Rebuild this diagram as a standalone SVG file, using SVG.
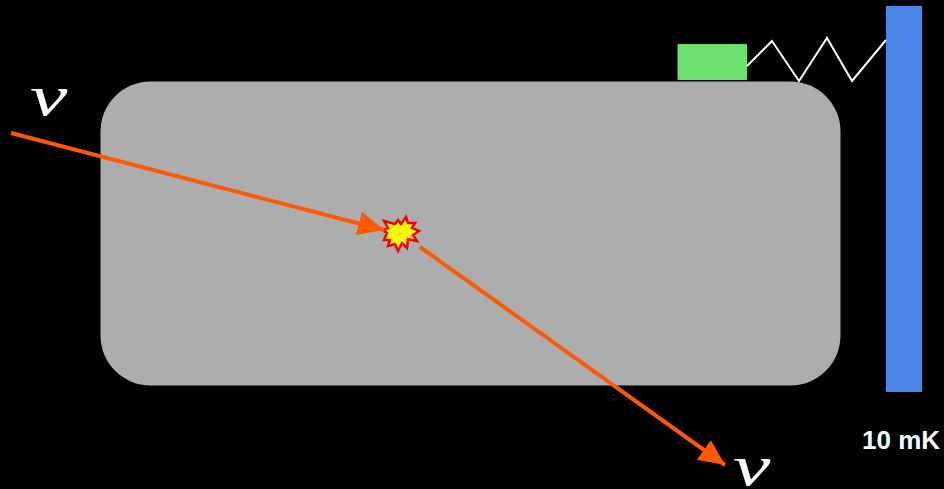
<svg xmlns="http://www.w3.org/2000/svg" width="944" height="489" viewBox="0 0 944 489">
<style>
.nu{font-family:"Liberation Serif","DejaVu Serif",serif;font-style:italic;font-size:58px;fill:#fff}
.lbl{font-family:"Liberation Sans",Arial,sans-serif;font-weight:bold;font-size:26px;fill:#fff}
.ray{stroke:#ff5a00;stroke-width:4;fill:none}
</style>
<defs><marker id="arrow" markerUnits="userSpaceOnUse" markerWidth="28" markerHeight="28" refX="26" refY="14" orient="auto"><path d="M0 2L26 14L0 26Z" fill="#ff5a00"/></marker></defs>
<rect width="944" height="489" fill="#000"/>
<g id="absorber"><rect x="100.500" y="81.500" width="740" height="304" rx="50" ry="50" fill="#adadad"/></g>
<g id="sensor"><rect x="677.500" y="44" width="69.500" height="36" rx="1" fill="#6ee06e"/></g>
<g id="bath"><rect x="886" y="6" width="36" height="386" fill="#4a86e8"/></g>
<g id="event"><polygon fill="#ffff00" stroke="#f00000" stroke-width="2.500" points="384,221 395,224 398,220 401,224 406,217 408,223 415,223 412,228 419,231 413,235 417,241 408,239 407,248 402,243 398,251 395,244 388,246 390,240 384,240 387,233 383,230 388,228"/></g>
<g id="connectors">
<polyline points="747,66 772,41 799,81 827,38 852,81 886,40" fill="none" stroke="#fff" stroke-width="2"/>
<line class="ray" x1="11" y1="133" x2="384" y2="230" marker-end="url(#arrow)"/>
<line class="ray" x1="420" y1="247" x2="725" y2="465" marker-end="url(#arrow)"/>
</g>
<g id="labels">
<text class="nu" transform="translate(30 115) scale(1.45 1)">ν</text>
<text class="nu" transform="translate(733 485) scale(1.45 1)">ν</text>
<text class="lbl" x="862" y="449">10 mK</text>
</g>
</svg>
